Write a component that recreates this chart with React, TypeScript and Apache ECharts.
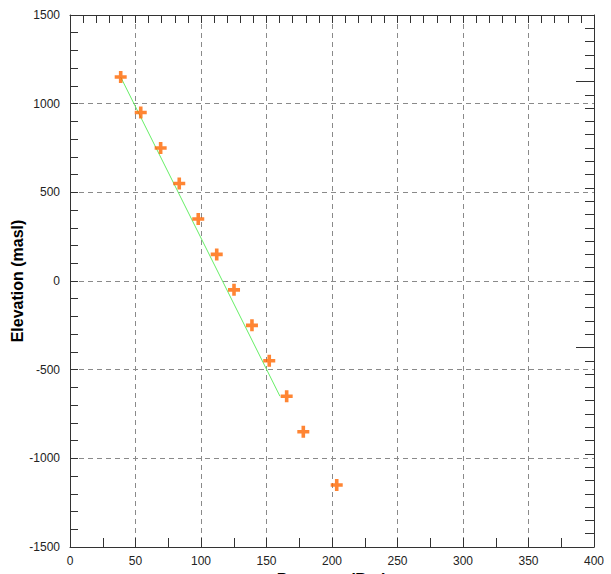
import React, { useEffect, useRef } from "react";
import * as echarts from "echarts";

const pressure = [38.7, 54, 69.2, 83.4, 97.9, 112, 125.2, 138.9, 152.1, 165.4, 178.1, 203.6];
const elevation = [1150, 950, 750, 550, 350, 150, -50, -250, -450, -650, -850, -1150];
const fitPressure = [38.7, 160.3];
const fitElevation = [1150, -650];
const xTicks = [0, 400, 50];
const yTicks = [-1500, 1500, 500];
const rightLongTicks = [1125, -375];

const PLUS = "path://M3.5,0h3v3.5h3.5v3h-3.5v3.5h-3v-3.5h-3.5v-3h3.5z";
const FONT = "'Liberation Sans', Arial, sans-serif";

export default function App() {
  const ref = useRef<HTMLDivElement>(null);
  useEffect(() => {
    if (!ref.current) return;
    const chart = echarts.init(ref.current, undefined, { renderer: "svg" });
    const axisLine = { show: true, onZero: false, lineStyle: { color: "#333", width: 1 } };
    const split = { show: true, lineStyle: { color: "#8a8a8a", type: [5, 4], width: 1 } };
    const fmt = (v: number) => String(v);
    chart.setOption({
      animation: false,
      grid: { left: 70, right: 17, top: 15, bottom: 27, containLabel: false, outerBoundsMode: "none" },
      xAxis: [
        {
          type: "value",
          position: "bottom",
          min: xTicks[0],
          max: xTicks[1],
          interval: xTicks[2],
          name: "Pressure (Bar)",
          nameLocation: "middle",
          nameGap: 20,
          nameTextStyle: { fontFamily: FONT, fontSize: 16, fontWeight: "bold", color: "#000" },
          axisLine,
          axisTick: { show: true, inside: true, length: 9, lineStyle: { color: "#333" } },
          minorTick: { show: true, splitNumber: 2, length: 9, lineStyle: { color: "#333" } },
          axisLabel: { fontFamily: FONT, fontSize: 12, color: "#222", margin: 8, formatter: fmt },
          splitLine: split,
        },
        {
          type: "value",
          position: "top",
          min: xTicks[0],
          max: xTicks[1],
          interval: 10,
          axisLine,
          axisTick: { show: true, inside: true, length: 8, lineStyle: { color: "#333" } },
          axisLabel: { show: false },
          splitLine: { show: false },
        },
      ],
      yAxis: [
        {
          type: "value",
          position: "left",
          min: yTicks[0],
          max: yTicks[1],
          interval: yTicks[2],
          name: "Elevation (masl)",
          nameLocation: "middle",
          nameGap: 45,
          nameMoveOverlap: false,
          nameTextStyle: { fontFamily: FONT, fontSize: 16, fontWeight: "bold", color: "#000" },
          axisLine,
          axisTick: { show: true, inside: true, length: 8, lineStyle: { color: "#333" } },
          minorTick: { show: true, splitNumber: 5, length: 8, lineStyle: { color: "#333" } },
          axisLabel: { fontFamily: FONT, fontSize: 12, color: "#222", margin: 10, formatter: fmt },
          splitLine: split,
        },
        {
          type: "value",
          position: "right",
          min: yTicks[0],
          max: yTicks[1],
          interval: 75,
          axisLine,
          axisTick: { show: true, inside: true, length: 9, lineStyle: { color: "#333" } },
          axisLabel: { show: false },
          splitLine: { show: false },
        },
        {
          type: "value",
          position: "right",
          min: yTicks[0],
          max: yTicks[1],
          interval: 75,
          axisLine: { show: false, onZero: false },
          axisTick: { show: true, inside: true, length: 18, customValues: rightLongTicks, lineStyle: { color: "#333" } },
          axisLabel: { show: false },
          splitLine: { show: false },
        },
      ],
      series: [
        {
          type: "line",
          xAxisIndex: 0,
          yAxisIndex: 0,
          data: fitPressure.map((x, i) => [x, fitElevation[i]]),
          showSymbol: false,
          symbol: "none",
          lineStyle: { color: "#66ee66", width: 1 },
          z: 2,
        },
        {
          type: "scatter",
          xAxisIndex: 0,
          yAxisIndex: 0,
          data: pressure.map((x, i) => [x, elevation[i]]),
          symbol: PLUS,
          symbolSize: 12,
          itemStyle: { color: "#ff6600" },
          z: 3,
        },
      ],
    });
    return () => chart.dispose();
  }, []);
  return <div ref={ref} style={{ width: 611, height: 574, position: "absolute", left: 0, top: 0 }} />;
}
